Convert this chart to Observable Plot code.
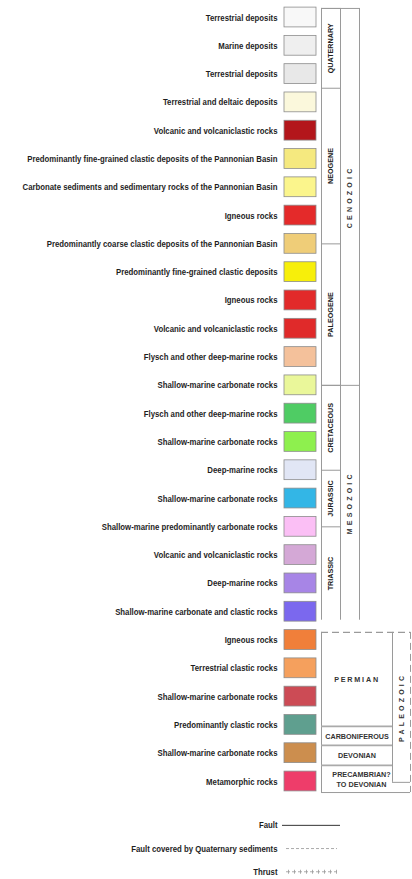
<!DOCTYPE html>
<html><head><meta charset="utf-8">
<script src="https://cdn.jsdelivr.net/npm/d3@7"></script>
<script src="https://cdn.jsdelivr.net/npm/@observablehq/plot@0.6"></script>
<style>
html,body{margin:0;padding:0;background:#fff;}
#chart{width:412px;height:879px;}
</style></head>
<body><div id="chart"></div>
<script>
const labels = [
  "Terrestrial deposits",
  "Marine deposits",
  "Terrestrial deposits",
  "Terrestrial and deltaic deposits",
  "Volcanic and volcaniclastic rocks",
  "Predominantly fine-grained clastic deposits of the Pannonian Basin",
  "Carbonate sediments and sedimentary rocks of the Pannonian Basin",
  "Igneous rocks",
  "Predominantly coarse clastic deposits of the Pannonian Basin",
  "Predominantly fine-grained clastic deposits",
  "Igneous rocks",
  "Volcanic and volcaniclastic rocks",
  "Flysch and other deep-marine rocks",
  "Shallow-marine carbonate rocks",
  "Flysch and other deep-marine rocks",
  "Shallow-marine carbonate rocks",
  "Deep-marine rocks",
  "Shallow-marine carbonate rocks",
  "Shallow-marine predominantly carbonate rocks",
  "Volcanic and volcaniclastic rocks",
  "Deep-marine rocks",
  "Shallow-marine carbonate and clastic rocks",
  "Igneous rocks",
  "Terrestrial clastic rocks",
  "Shallow-marine carbonate rocks",
  "Predominantly clastic rocks",
  "Shallow-marine carbonate rocks",
  "Metamorphic rocks"
];
const colors = [
  "#f8f8f8","#efefef","#e8e8e8","#fbf8dc","#b3161b","#f5e97f","#fbf58c",
  "#e42a2a","#efcd78","#f7ef0a","#e22a2a","#e02a2a","#f4c19b","#eaf79a",
  "#4fcc64","#8ef04e","#e1e6f5","#33b6e6","#fbbff5","#d4a8d6","#a785e6",
  "#7b68ee","#f07f3a","#f5a05d","#cc4b55","#5f9f8f","#cc8e4e","#ee3d6a"
];
// stratigraphic spans, in legend-row units
const periodNames = ["QUATERNARY","NEOGENE","PALEOGENE","CRETACEOUS","JURASSIC","TRIASSIC"];
const periodFrom  = [-0.32, 2.5, 8, 13, 16, 18];
const periodTo    = [2.5, 8, 13, 16, 18, 21.3];
const eraNames = ["CENOZOIC","MESOZOIC"];
const eraFrom  = [-0.32, 13];
const eraTo    = [13, 21.3];
const paleoPeriodNames = ["PERMIAN","CARBONIFEROUS","DEVONIAN","PRECAMBRIAN?\nTO DEVONIAN"];
const paleoFrom = [21.73, 25.05, 25.72, 26.43];
const paleoTo   = [25.05, 25.72, 26.43, 27.39];
const paleoEra = {name: "PALEOZOIC", from: 21.73, to: 27.03};
const lineNames = ["Fault","Fault covered by Quaternary sediments","Thrust"];

const rows = labels.map((label, i) => ({i, label, color: colors[i]}));
const periods = periodNames.map((name, k) => ({name, from: periodFrom[k], to: periodTo[k]}));
const eras = eraNames.map((name, k) => ({name, from: eraFrom[k], to: eraTo[k]}));
const paleo = paleoPeriodNames.map((name, k) => ({name, from: paleoFrom[k], to: paleoTo[k]}));
const lines = lineNames.map((name, k) => ({name, y: 28.55 + k * 0.82}));

const FONT = "'Liberation Sans',Arial,sans-serif";
const GRAY = "#9a9a9a";
const top0 = d3.min(periods, d => d.from), bot0 = d3.max(periods, d => d.to);
const mid = d => (d.from + d.to) / 2;

const chart = Plot.plot({
  width: 412, height: 879, margin: 0,
  x: {type: "identity", axis: null},
  y: {domain: [0, 27], range: [17, 781], axis: null},
  color: {type: "identity"},
  style: {fontFamily: FONT, background: "#fff"},
  marks: [
    // swatches
    Plot.rect(rows, {x1: 284, x2: 316, y1: d => d.i - 0.35, y2: d => d.i + 0.35,
      fill: "color", stroke: "#8c8c8c", strokeWidth: 0.8}),
    Plot.text(rows, {x: 277, y: "i", text: "label", textAnchor: "end",
      fontSize: 9.4, fill: "#1e1e1e", fontFamily: FONT, fontWeight: "bold", className: "lbl"}),
    // Cenozoic/Mesozoic bracket frame
    Plot.ruleX([321, 340, 359], {x: d => d, y1: top0, y2: bot0, stroke: GRAY, strokeWidth: 1}),
    Plot.ruleY(periods, {y: "from", x1: 321, x2: 340, stroke: GRAY, strokeWidth: 1}),
    Plot.ruleY(eras, {y: "from", x1: 321, x2: 359, stroke: GRAY, strokeWidth: 1}),
    Plot.text(periods, {x: 330.5, y: mid, text: "name", rotate: -90, fontSize: 7.2,
      fontWeight: "bold", fill: "#222", fontFamily: FONT}),
    Plot.text(eras, {x: 349.5, y: mid, text: "name", rotate: -90, fontSize: 7,
      fontWeight: "bold", fill: "#333", fontFamily: FONT, className: "era"}),
    // Paleozoic frame
    Plot.ruleY([paleoEra], {y: "from", x1: 321, x2: 410, stroke: GRAY, strokeWidth: 1.2, strokeDasharray: "7,4"}),
    Plot.ruleX([paleoEra], {x: 321, y1: "from", y2: paleoTo[3], stroke: GRAY, strokeWidth: 1}),
    Plot.ruleX([paleoEra], {x: 392, y1: "from", y2: "to", stroke: GRAY, strokeWidth: 1}),
    Plot.ruleX([paleoEra], {x: 410, y1: "from", y2: paleoTo[3], stroke: GRAY, strokeWidth: 1, strokeDasharray: "7,4"}),
    Plot.ruleY([paleoEra], {y: "to", x1: 392, x2: 410, stroke: GRAY, strokeWidth: 1}),
    Plot.ruleY(paleo.slice(1), {y: "from", x1: 321, x2: 392, stroke: "#aaa", strokeWidth: 1.8}),
    Plot.ruleY(paleo.slice(-1), {y: "to", x1: 321, x2: 410, stroke: GRAY, strokeWidth: 1}),
    Plot.text(paleo, {x: d => d.name === "PRECAMBRIAN?\nTO DEVONIAN" ? 361 : 356.5, y: mid, text: "name",
      fontSize: 7.2, fontWeight: "bold", fill: "#333", fontFamily: FONT, lineHeight: 1.3,
      className: "paleo"}),
    Plot.text([paleoEra], {x: 401, y: mid, text: "name", rotate: -90, fontSize: 7,
      fontWeight: "bold", fill: "#333", fontFamily: FONT, className: "era"}),
    // line legend
    Plot.text(lines, {x: 277, y: "y", text: "name", textAnchor: "end",
      fontSize: 9.4, fill: "#1e1e1e", fontFamily: FONT, fontWeight: "bold", className: "lbl"}),
    Plot.ruleY(lines.slice(0, 1), {y: "y", x1: 282, x2: 340, stroke: "#333", strokeWidth: 1}),
    Plot.ruleY(lines.slice(1, 2), {y: "y", x1: 286, x2: 337, stroke: "#aaa", strokeWidth: 1, strokeDasharray: "3,2"}),
    Plot.ruleY(lines.slice(2, 3), {y: "y", x1: 286, x2: 337, stroke: "#999", strokeWidth: 0.8, strokeDasharray: "4,2"}),
    Plot.ruleY(lines.slice(2, 3), {y: "y", x1: 288, x2: 337, stroke: "#999", strokeWidth: 4, strokeDasharray: "0.8,5.2"})
  ]
});
document.getElementById("chart").appendChild(chart);
const svg = d3.select(chart);
svg.selectAll(".era text").attr("letter-spacing", "3.2px");
svg.selectAll(".paleo text").filter(function(){ return this.textContent === "PERMIAN"; }).attr("letter-spacing", "1.8px");
svg.selectAll(".paleo text").filter(function(){ return this.textContent === "CARBONIFEROUS"; })
  .each(function(){ const w = this.getComputedTextLength(); if (w > 66) { this.setAttribute("textLength", 66); this.setAttribute("lengthAdjust", "spacingAndGlyphs"); } });
// condense labels: the longest label spans x 22..277 in the reference
const lbl = svg.selectAll(".lbl text");
const longest = d3.max(lbl.nodes(), n => n.getComputedTextLength());
const k = 255 / longest;
lbl.each(function(){
  const w = this.getComputedTextLength();
  this.setAttribute("textLength", (w * k).toFixed(2));
  this.setAttribute("lengthAdjust", "spacingAndGlyphs");
});
</script>
</body></html>
